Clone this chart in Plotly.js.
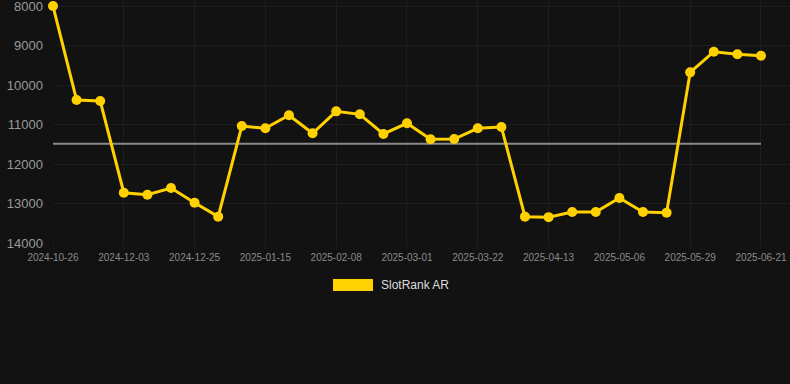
<!DOCTYPE html>
<html>
<head>
<meta charset="utf-8">
<script src="https://cdn.plot.ly/plotly-3.0.1.min.js"></script>
<style>
html,body{margin:0;padding:0;background:#121212;}
#chart{width:790px;height:384px;}
</style>
</head>
<body>
<div id="chart"></div>
<script>
const dates = [
  "2024-10-26","2024-11-10","2024-11-22","2024-12-03","2024-12-10","2024-12-17",
  "2024-12-25","2025-01-01","2025-01-08","2025-01-15","2025-01-23","2025-01-31",
  "2025-02-08","2025-02-15","2025-02-22","2025-03-01","2025-03-08","2025-03-15",
  "2025-03-22","2025-03-29","2025-04-06","2025-04-13","2025-04-21","2025-04-28",
  "2025-05-06","2025-05-14","2025-05-21","2025-05-29","2025-06-05","2025-06-13",
  "2025-06-21"
];
const rank = [
  8000,10380,10405,12727,12777,12608,
  12980,13333,11038,11097,10767,11223,
  10667,10742,11240,10970,11375,11367,
  11097,11063,13333,13345,13215,13215,
  12860,13215,13232,9680,9157,9223,
  9258
];
const avgDates = ["2024-10-26","2025-06-21"];
const avgValues = [11490,11490];
const tickLabels = ["2024-10-26","2024-12-03","2024-12-25","2025-01-15","2025-02-08",
  "2025-03-01","2025-03-22","2025-04-13","2025-05-06","2025-05-29","2025-06-21"];
const yTicks = [8000,9000,10000,11000,12000,13000,14000];
const seriesName = "SlotRank AR";

const gold = "#FFD100";

const traces = [
  {
    x: avgDates, y: avgValues, type: "scatter", mode: "lines",
    line: {color: "#8a8a8a", width: 2}, showlegend: false, hoverinfo: "skip",
    cliponaxis: false
  },
  {
    x: dates, y: rank, type: "scatter", mode: "lines+markers", name: seriesName,
    line: {color: gold, width: 3}, marker: {color: gold, size: 10},
    showlegend: false, cliponaxis: false
  }
];

const layout = {
  width: 790, height: 384,
  paper_bgcolor: "#121212", plot_bgcolor: "#121212",
  margin: {l: 53, r: 0, t: 0, b: 141},
  font: {family: "Liberation Sans, Arial, sans-serif", color: "#999"},
  showlegend: false,
  xaxis: {
    type: "category", categoryorder: "array", categoryarray: dates,
    range: [0, 31.23],
    tickmode: "array", tickvals: tickLabels, ticktext: tickLabels,
    showgrid: true, gridcolor: "#1d1d1d", gridwidth: 1,
    zeroline: false, showline: false,
    ticks: "outside", ticklen: 5, tickcolor: "#1d1d1d",
    tickfont: {size: 10, color: "#8a8a8a"}
  },
  yaxis: {
    range: [14000, 7848], autorange: false,
    tickmode: "array", tickvals: yTicks, ticktext: yTicks.map(String),
    showgrid: true, gridcolor: "#1d1d1d", gridwidth: 1,
    zeroline: false, showline: false,
    ticks: "", ticklabelstandoff: 9, ticklabeloverflow: "allow",
    tickfont: {size: 13, color: "#9a9a9a"}
  },
  shapes: [
    {type: "rect", xref: "paper", yref: "paper",
     x0: (333-53)/737, x1: (373-53)/737, y0: (243-291)/243, y1: (243-279)/243,
     fillcolor: gold, line: {width: 0}}
  ],
  annotations: [
    {xref: "paper", yref: "paper", x: (379-53)/737, y: (243-285)/243,
     xanchor: "left", yanchor: "middle", showarrow: false,
     text: seriesName, font: {size: 12, color: "#dddddd"}}
  ]
};

Plotly.newPlot("chart", traces, layout, {displayModeBar: false, staticPlot: true});
</script>
</body>
</html>
